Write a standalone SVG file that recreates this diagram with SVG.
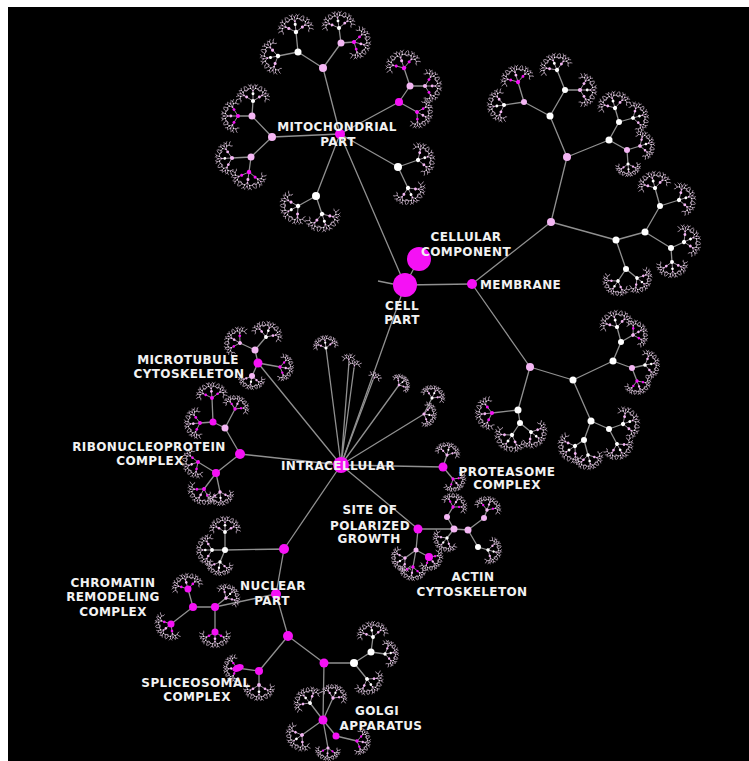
<svg xmlns="http://www.w3.org/2000/svg" width="749" height="761" viewBox="0 0 749 761">
<style>
.e{stroke:#909090;stroke-width:1.3;fill:none}
.f{stroke:#ad9cad;stroke-width:.8;fill:none;stroke-linecap:round;vector-effect:non-scaling-stroke}
.g{stroke:#9a8f9a;stroke-width:1;fill:none;vector-effect:non-scaling-stroke}
.m{fill:#f511f5}
.p{fill:#f4b6f4}
.w{fill:#ffffff}
.d{fill:#e2c4e2}
text{font-family:"DejaVu Sans","Liberation Sans",sans-serif;font-weight:bold;font-size:12px;letter-spacing:.4px;fill:#f2f2f2;text-anchor:middle}
</style>
<defs>
<g id="t">
<path class="f" d="M0 0V-5M0-5L-4-9M0-5L4-9M0-5L0-11M-4-9L-8-8M-4-9L-5-13M4-9L8-8M4-9L5-13M0-11L-2-14M0-11L2-14M-8-8L-10-5M-8-8L-11-11M-5-13L-8-15M-5-13L-3-16M8-8L10-5M8-8L11-11M5-13L8-15M5-13L3-16M-10-5L-12-4M-11-11L-13-12M10-5L12-4M11-11L13-12"/>
<circle cx="0" cy="-5" r="1.3" class="p"/>
<circle cx="-4" cy="-9" r="1" class="w"/>
<circle cx="4" cy="-9" r="1" class="w"/>
<circle cx="0" cy="-11" r=".9" class="p"/>
<circle cx="-8" cy="-8" r=".7" class="d"/>
<circle cx="8" cy="-8" r=".7" class="d"/>
<circle cx="-5" cy="-13" r=".7" class="d"/>
<circle cx="5" cy="-13" r=".7" class="d"/>
</g>
<g id="k">
<path class="g" d="M0 0L-8-5M0 0V-9M0 0L8-5"/>
<use href="#t" transform="translate(-8 -5) rotate(-60) scale(.75)"/>
<use href="#t" transform="translate(0 -9) scale(.75)"/>
<use href="#t" transform="translate(8 -5) rotate(60) scale(.75)"/>
<circle cx="-8" cy="-5" r="1.8" class="p"/>
<circle cx="0" cy="-9" r="1.8" class="w"/>
<circle cx="8" cy="-5" r="1.8" class="p"/>
<circle r="2.6"/>
</g>
<g id="km">
<path class="g" d="M0 0L-8-5M0 0V-9M0 0L8-5"/>
<use href="#t" transform="translate(-8 -5) rotate(-60) scale(.75)"/>
<use href="#t" transform="translate(0 -9) scale(.75)"/>
<use href="#t" transform="translate(8 -5) rotate(60) scale(.75)"/>
<circle cx="-8" cy="-5" r="1.8" class="m"/>
<circle cx="0" cy="-9" r="1.8" class="p"/>
<circle cx="8" cy="-5" r="1.8" class="m"/>
<circle r="2.6"/>
</g>
</defs>
<rect x="0" y="0" width="749" height="761" fill="#ffffff"/>
<rect x="8" y="7" width="741" height="754" fill="#000000"/>

<g id="connectors">
<path class="e" d="M405 285L419 259M405 285L340 134M405 285L472 284M405 285L341 465M393 284L378 281"/>
<path class="e" d="M340 134L323 68M323 68L298 52M323 68L341 43M298 52L278 56M298 52L296 32M341 43L339 28M341 43L354 42M340 134L272 137M272 137L252 116M272 137L251 157M252 116L238 116M252 116L253 101M251 157L249 172M251 157L232 158M340 134L399 102M399 102L410 86M399 102L417 112M410 86L404 68M410 86L425 86M340 134L398 167M398 167L418 160M398 167L408 188M340 134L316 196M316 196L298 206M316 196L322 214"/>
<path class="e" d="M472 284L551 222M551 222L567 157M551 222L616 240M567 157L550 116M567 157L609 140M550 116L524 102M550 116L565 90M609 140L619 122M609 140L627 150M524 102L504 105M524 102L518 82M565 90L557 70M565 90L580 90M619 122L615 108M619 122L633 118M627 150L640 146M627 150L628 164M616 240L645 232M616 240L626 269M645 232L660 206M645 232L671 248M660 206L655 188M660 206L679 200M671 248L684 242M671 248L672 262M626 269L618 281M626 269L637 278"/>
<path class="e" d="M472 284L530 367M530 367L573 380M530 367L518 410M573 380L613 361M573 380L591 421M613 361L621 342M613 361L632 368M621 342L617 327M621 342L633 335M632 368L645 365M632 368L637 381M591 421L584 440M591 421L609 429M609 429L623 424M609 429L617 444M584 440L575 446M584 440L588 455M518 410L492 413M518 410L520 423M520 423L512 435M520 423L531 432"/>
<path class="e" d="M341 465L258 363M341 465L240 454M341 465L326 348M341 465L349 362M341 465L354 368M341 465L373 380M341 465L399 385M341 465L424 414M424 414L432 398M341 465L443 467M341 465L418 529M341 465L284 549"/>
<path class="e" d="M258 363L255 350M255 350L266 337M255 350L240 343M258 363L252 376M258 363L280 367M240 454L225 428M225 428L213 422M213 422L200 423M213 422L212 398M225 428L235 409M240 454L216 473M216 473L198 462M216 473L204 489M216 473L220 492"/>
<path class="e" d="M443 467L453 479M443 467L447 455M418 529L454 529M454 529L447 517M447 517L453 507M454 529L447 538M454 529L468 530M468 530L484 518M484 518L487 510M468 530L478 547M478 547L488 550M418 529L416 550M416 550L405 558M416 550L413 567M416 550L429 557"/>
<path class="e" d="M284 549L225 550M225 550L212 550M225 550L225 532M225 550L220 562M284 549L276 594M276 594L215 607M215 607L193 607M215 607L215 632M215 607L226 598M193 607L171 624M193 607L188 589M276 594L288 636M288 636L259 671M288 636L324 663M324 663L354 663M324 663L323 720M259 671L237 668M259 671L259 685M354 663L371 652M371 652L373 637M371 652L385 654M354 663L367 679M323 720L336 736M336 736L357 741M323 720L302 735M323 720L310 703M323 720L333 698M323 720L328 748"/>
</g>

<g id="leaves">
<use href="#k" class="w" transform="translate(278 56) rotate(-101) scale(.85)"/>
<use href="#k" class="w" transform="translate(296 32) rotate(-6) scale(.85)"/>
<use href="#k" class="w" transform="translate(339 28) rotate(-8) scale(.8)"/>
<use href="#km" class="m" transform="translate(354 42) rotate(105) scale(.8)"/>
<use href="#km" class="m" transform="translate(238 116) rotate(-90) scale(.8)"/>
<use href="#k" class="w" transform="translate(253 101) rotate(0) scale(.8)"/>
<use href="#km" class="m" transform="translate(249 172) rotate(188) scale(.85)"/>
<use href="#k" class="p" transform="translate(232 158) rotate(-93) scale(.8)"/>
<use href="#km" class="m" transform="translate(404 68) rotate(-18) scale(.85)"/>
<use href="#km" class="p" transform="translate(425 86) rotate(90) scale(.8)"/>
<use href="#km" class="m" transform="translate(417 112) rotate(119) scale(.75)"/>
<use href="#k" class="w" transform="translate(418 160) rotate(71) scale(.8)"/>
<use href="#k" class="w" transform="translate(408 188) rotate(155) scale(.8)"/>
<use href="#k" class="w" transform="translate(298 206) rotate(-119) scale(.85)"/>
<use href="#k" class="w" transform="translate(322 214) rotate(162) scale(.85)"/>
<use href="#k" class="w" transform="translate(504 105) rotate(-98) scale(.8)"/>
<use href="#km" class="m" transform="translate(518 82) rotate(-17) scale(.8)"/>
<use href="#k" class="w" transform="translate(557 70) rotate(-22) scale(.8)"/>
<use href="#k" class="p" transform="translate(580 90) rotate(90) scale(.8)"/>
<use href="#k" class="w" transform="translate(615 108) rotate(-16) scale(.8)"/>
<use href="#k" class="w" transform="translate(633 118) rotate(74) scale(.75)"/>
<use href="#k" class="p" transform="translate(640 146) rotate(72) scale(.7)"/>
<use href="#k" class="w" transform="translate(628 164) rotate(175) scale(.6)"/>
<use href="#k" class="w" transform="translate(655 188) rotate(-15) scale(.8)"/>
<use href="#k" class="w" transform="translate(679 200) rotate(72) scale(.8)"/>
<use href="#k" class="w" transform="translate(684 242) rotate(65) scale(.8)"/>
<use href="#k" class="w" transform="translate(672 262) rotate(176) scale(.75)"/>
<use href="#k" class="w" transform="translate(618 281) rotate(-146) scale(.7)"/>
<use href="#k" class="w" transform="translate(637 278) rotate(129) scale(.7)"/>
<use href="#k" class="w" transform="translate(617 327) rotate(-15) scale(.8)"/>
<use href="#km" class="p" transform="translate(633 335) rotate(60) scale(.7)"/>
<use href="#k" class="w" transform="translate(645 365) rotate(80) scale(.7)"/>
<use href="#km" class="m" transform="translate(637 381) rotate(159) scale(.65)"/>
<use href="#k" class="w" transform="translate(623 424) rotate(70) scale(.8)"/>
<use href="#k" class="w" transform="translate(617 444) rotate(152) scale(.75)"/>
<use href="#k" class="w" transform="translate(575 446) rotate(-124) scale(.8)"/>
<use href="#k" class="w" transform="translate(588 455) rotate(165) scale(.7)"/>
<use href="#k" class="w" transform="translate(512 435) rotate(-146) scale(.8)"/>
<use href="#k" class="w" transform="translate(531 432) rotate(129) scale(.75)"/>
<use href="#km" class="m" transform="translate(492 413) rotate(-96) scale(.8)"/>
<use href="#k" class="w" transform="translate(326 348) rotate(-8) scale(.6)"/>
<use href="#t" transform="translate(349 362) rotate(-5) scale(.5)"/>
<use href="#t" transform="translate(354 368) rotate(10) scale(.5)"/>
<use href="#t" transform="translate(373 380) rotate(30) scale(.5)"/>
<use href="#k" class="p" transform="translate(399 385) rotate(50) scale(.5)"/>
<use href="#k" class="p" transform="translate(424 414) rotate(100) scale(.6)"/>
<use href="#k" class="w" transform="translate(432 398) rotate(25) scale(.6)"/>
<use href="#k" class="w" transform="translate(266 337) rotate(20) scale(.75)"/>
<use href="#km" class="p" transform="translate(240 343) rotate(-60) scale(.75)"/>
<use href="#k" class="p" transform="translate(252 376) rotate(190) scale(.65)"/>
<use href="#km" class="m" transform="translate(280 367) rotate(100) scale(.65)"/>
<use href="#km" class="m" transform="translate(212 398) rotate(-5) scale(.75)"/>
<use href="#km" class="m" transform="translate(235 409) rotate(25) scale(.65)"/>
<use href="#km" class="m" transform="translate(200 423) rotate(-95) scale(.75)"/>
<use href="#km" class="m" transform="translate(198 462) rotate(-110) scale(.75)"/>
<use href="#km" class="m" transform="translate(204 489) rotate(-150) scale(.75)"/>
<use href="#k" class="p" transform="translate(220 492) rotate(175) scale(.65)"/>
<use href="#k" class="p" transform="translate(447 455) rotate(15) scale(.6)"/>
<use href="#km" class="m" transform="translate(453 479) rotate(140) scale(.6)"/>
<use href="#km" class="m" transform="translate(453 507) rotate(31) scale(.65)"/>
<use href="#k" class="w" transform="translate(447 538) rotate(-140) scale(.65)"/>
<use href="#km" class="p" transform="translate(487 510) rotate(20) scale(.65)"/>
<use href="#k" class="w" transform="translate(488 550) rotate(105) scale(.65)"/>
<use href="#k" class="p" transform="translate(405 558) rotate(-120) scale(.65)"/>
<use href="#km" class="m" transform="translate(413 567) rotate(190) scale(.65)"/>
<use href="#km" class="m" transform="translate(429 557) rotate(140) scale(.65)"/>
<use href="#k" class="w" transform="translate(212 550) rotate(-90) scale(.75)"/>
<use href="#k" class="w" transform="translate(225 532) rotate(0) scale(.75)"/>
<use href="#k" class="w" transform="translate(220 562) rotate(190) scale(.65)"/>
<use href="#km" class="m" transform="translate(171 624) rotate(-130) scale(.75)"/>
<use href="#km" class="m" transform="translate(188 589) rotate(-15) scale(.75)"/>
<use href="#km" class="m" transform="translate(215 632) rotate(180) scale(.75)"/>
<use href="#k" class="p" transform="translate(226 598) rotate(45) scale(.65)"/>
<use href="#km" class="m" transform="translate(237 668) rotate(-95) scale(.65)"/>
<use href="#k" class="p" transform="translate(259 685) rotate(180) scale(.75)"/>
<use href="#k" class="w" transform="translate(373 637) rotate(-10) scale(.75)"/>
<use href="#k" class="w" transform="translate(385 654) rotate(80) scale(.65)"/>
<use href="#k" class="w" transform="translate(367 679) rotate(145) scale(.75)"/>
<use href="#k" class="p" transform="translate(302 735) rotate(-125) scale(.75)"/>
<use href="#k" class="w" transform="translate(310 703) rotate(-40) scale(.75)"/>
<use href="#k" class="p" transform="translate(333 698) rotate(25) scale(.65)"/>
<use href="#km" class="p" transform="translate(328 748) rotate(185) scale(.6)"/>
<use href="#km" class="m" transform="translate(357 741) rotate(100) scale(.65)"/>
</g>

<g id="inner-nodes">
<circle cx="323" cy="68" r="4" class="p"/><circle cx="298" cy="52" r="3.5" class="w"/><circle cx="341" cy="43" r="3.5" class="p"/>
<circle cx="272" cy="137" r="4" class="p"/><circle cx="252" cy="116" r="3.5" class="p"/><circle cx="251" cy="157" r="3.5" class="p"/>
<circle cx="399" cy="102" r="4" class="m"/><circle cx="410" cy="86" r="3.5" class="p"/><circle cx="398" cy="167" r="4" class="w"/><circle cx="316" cy="196" r="4" class="w"/>
<circle cx="551" cy="222" r="4" class="p"/><circle cx="567" cy="157" r="4" class="p"/><circle cx="616" cy="240" r="3.5" class="w"/>
<circle cx="550" cy="116" r="3.5" class="w"/><circle cx="609" cy="140" r="3.5" class="w"/><circle cx="645" cy="232" r="3.5" class="w"/>
<circle cx="524" cy="102" r="3" class="p"/><circle cx="565" cy="90" r="3" class="w"/><circle cx="619" cy="122" r="3" class="w"/><circle cx="627" cy="150" r="3" class="p"/>
<circle cx="660" cy="206" r="3" class="w"/><circle cx="671" cy="248" r="3" class="w"/><circle cx="626" cy="269" r="3" class="w"/>
<circle cx="530" cy="367" r="4" class="p"/><circle cx="573" cy="380" r="3.5" class="w"/><circle cx="518" cy="410" r="3.5" class="w"/>
<circle cx="613" cy="361" r="3.5" class="w"/><circle cx="591" cy="421" r="3.5" class="w"/>
<circle cx="621" cy="342" r="3" class="w"/><circle cx="632" cy="368" r="3" class="p"/><circle cx="609" cy="429" r="3" class="w"/><circle cx="584" cy="440" r="3" class="w"/><circle cx="520" cy="423" r="3" class="w"/>
<circle cx="255" cy="350" r="3.5" class="p"/><circle cx="252" cy="376" r="3" class="p"/>
<circle cx="225" cy="428" r="3.5" class="p"/><circle cx="213" cy="422" r="3.5" class="m"/><circle cx="216" cy="473" r="4" class="m"/>
<circle cx="454" cy="529" r="3.5" class="p"/><circle cx="447" cy="517" r="3" class="p"/><circle cx="468" cy="530" r="3.5" class="p"/><circle cx="484" cy="518" r="3" class="p"/><circle cx="478" cy="547" r="3" class="w"/><circle cx="416" cy="550" r="2.5" class="p"/>
<circle cx="225" cy="550" r="3" class="w"/>
<circle cx="215" cy="607" r="4" class="m"/><circle cx="371" cy="652" r="3.5" class="w"/><circle cx="354" cy="663" r="4" class="w"/><circle cx="336" cy="736" r="3.5" class="m"/>
</g>

<g id="n-cellular-component"><circle cx="419" cy="259" r="12" class="m"/></g>
<g id="n-cell-part"><circle cx="405" cy="285" r="12" class="m"/></g>
<g id="n-membrane"><circle cx="472" cy="284" r="5" class="m"/></g>
<g id="n-mitochondrial-part"><circle cx="340" cy="134" r="5" class="m"/></g>
<g id="n-intracellular"><circle cx="341" cy="465" r="8" class="m"/></g>
<g id="n-microtubule-cytoskeleton"><circle cx="258" cy="363" r="4.5" class="m"/></g>
<g id="n-ribonucleoprotein-complex"><circle cx="240" cy="454" r="5" class="m"/></g>
<g id="n-proteasome-complex"><circle cx="443" cy="467" r="4.5" class="m"/></g>
<g id="n-site-of-polarized-growth"><circle cx="418" cy="529" r="4.5" class="m"/></g>
<g id="n-actin-cytoskeleton"><circle cx="429" cy="557" r="4" class="m"/></g>
<g id="n-organelle"><circle cx="284" cy="549" r="5" class="m"/></g>
<g id="n-nuclear-part"><circle cx="276" cy="594" r="5" class="m"/></g>
<g id="n-chromatin-remodeling-complex"><circle cx="193" cy="607" r="4" class="m"/><circle cx="171" cy="624" r="3.5" class="m"/><circle cx="188" cy="589" r="3.5" class="m"/><circle cx="215" cy="632" r="3.5" class="m"/></g>
<g id="n-branch"><circle cx="288" cy="636" r="5" class="m"/><circle cx="324" cy="663" r="4.5" class="m"/></g>
<g id="n-spliceosomal-complex"><circle cx="259" cy="671" r="4" class="m"/><ellipse cx="238" cy="668" rx="6" ry="3.5" transform="rotate(-20 238 668)" class="m"/></g>
<g id="n-golgi-apparatus"><circle cx="323" cy="720" r="4.5" class="m"/></g>

<g id="labels">
<text x="466" y="241">CELLULAR</text><text x="466" y="256">COMPONENT</text>
<text x="402" y="310">CELL</text><text x="402" y="324">PART</text>
<text x="480" y="289" style="text-anchor:start">MEMBRANE</text>
<text x="337" y="131">MITOCHONDRIAL</text><text x="338" y="146">PART</text>
<text x="188" y="364">MICROTUBULE</text><text x="189" y="378">CYTOSKELETON</text>
<text x="149" y="451">RIBONUCLEOPROTEIN</text><text x="150" y="465">COMPLEX</text>
<text x="338" y="470">INTRACELLULAR</text>
<text x="507" y="476">PROTEASOME</text><text x="507" y="489">COMPLEX</text>
<text x="370" y="514">SITE OF</text><text x="370" y="530">POLARIZED</text><text x="369" y="543">GROWTH</text>
<text x="473" y="581">ACTIN</text><text x="472" y="596">CYTOSKELETON</text>
<text x="113" y="587">CHROMATIN</text><text x="113" y="601">REMODELING</text><text x="113" y="616">COMPLEX</text>
<text x="273" y="590">NUCLEAR</text><text x="272" y="605">PART</text>
<text x="196" y="687">SPLICEOSOMAL</text><text x="197" y="701">COMPLEX</text>
<text x="377" y="715">GOLGI</text><text x="381" y="730">APPARATUS</text>
</g>
</svg>
